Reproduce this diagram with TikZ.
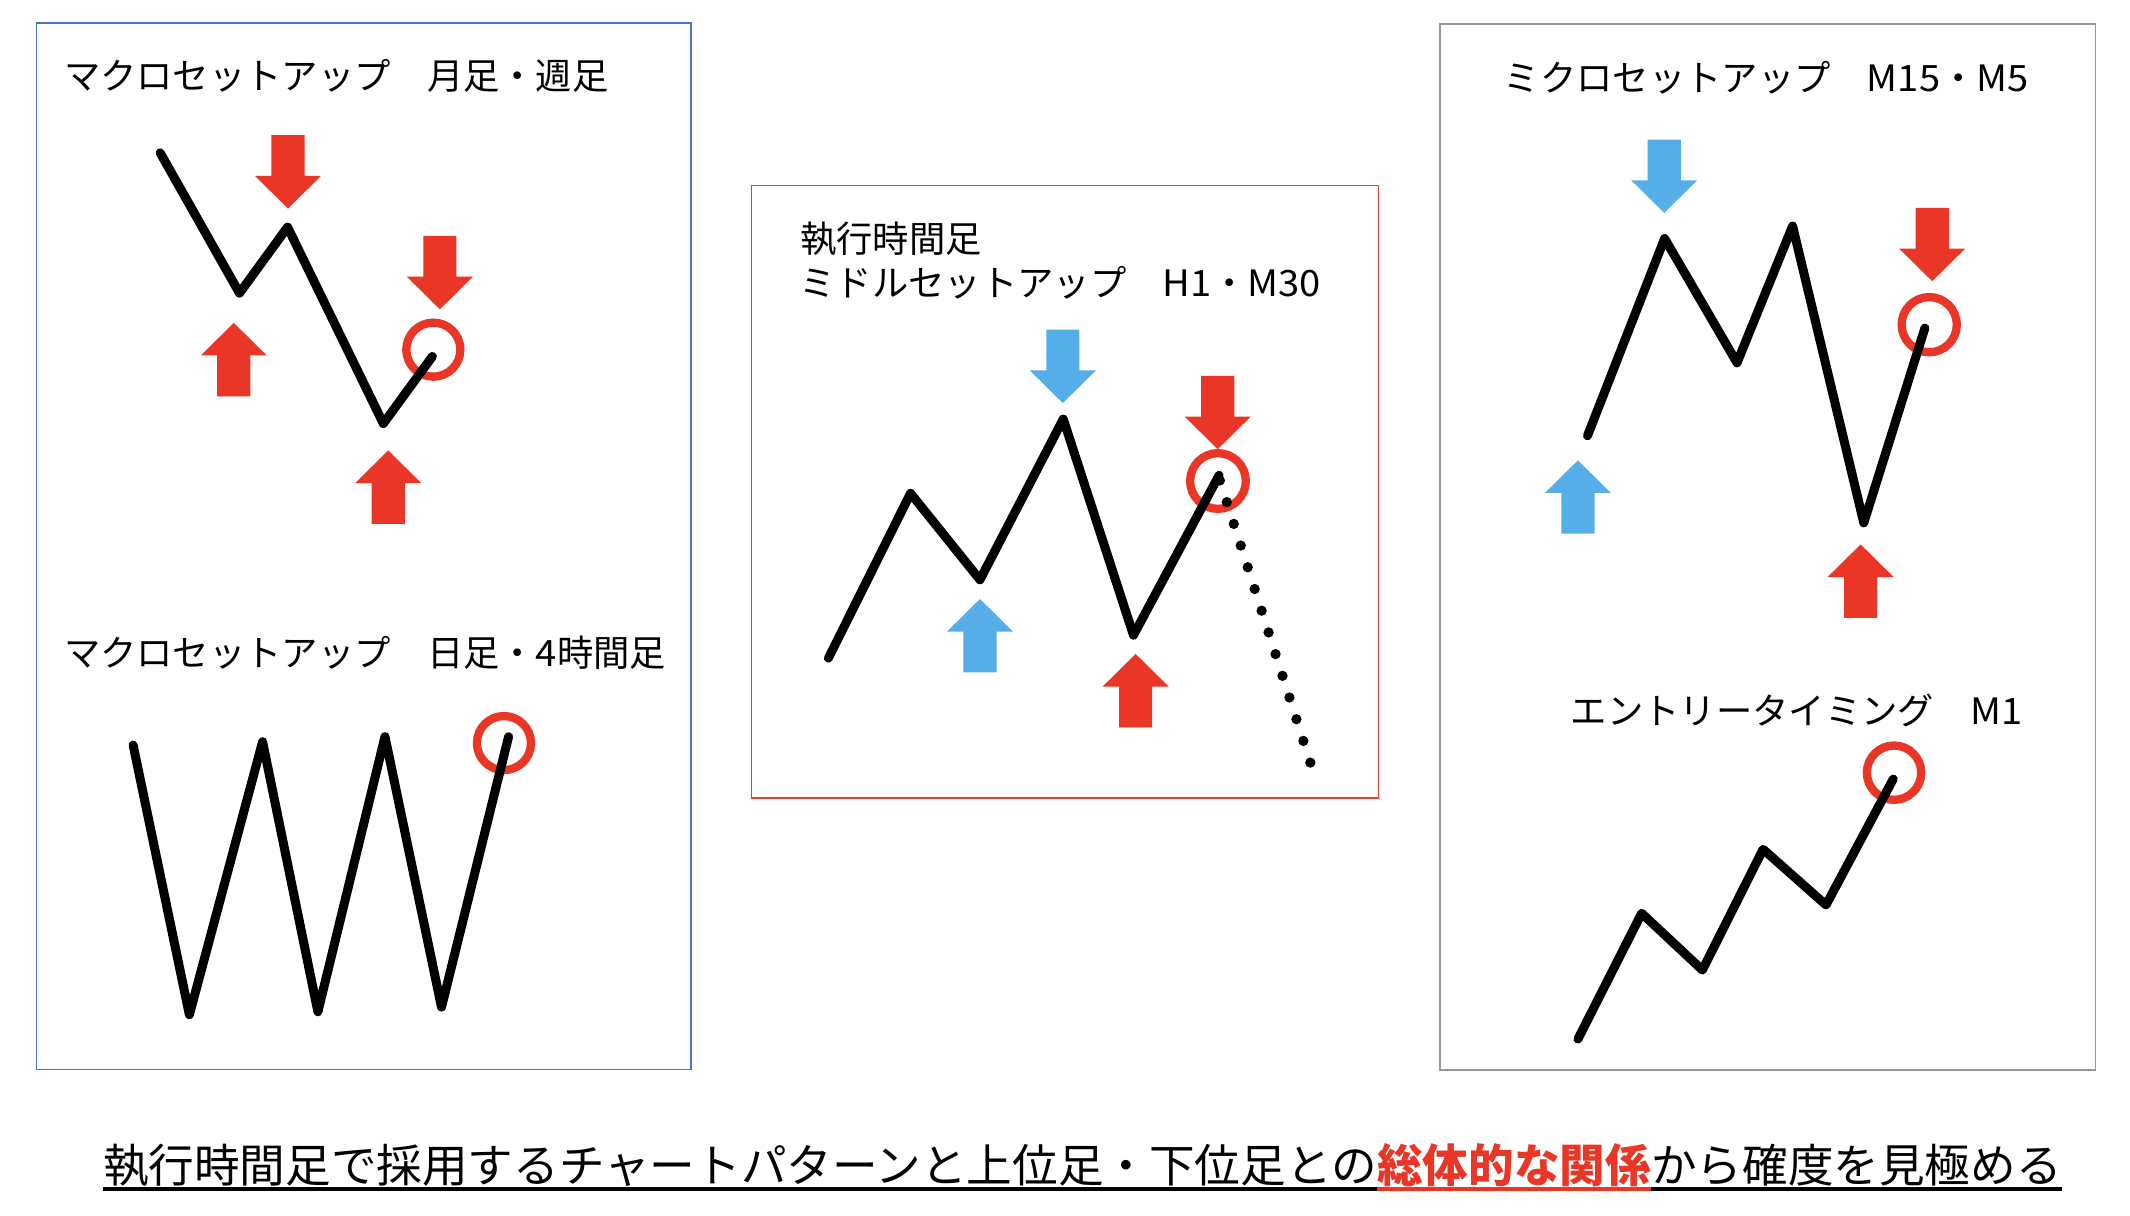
\documentclass[tikz,border=0pt]{standalone}
\usepackage{fontspec}
\setmainfont{Noto Sans CJK JP}
\newcommand\lat[1]{{\addfontfeature{FakeStretch=1.05}#1}}
\definecolor{arred}{RGB}{233,54,38}
\definecolor{arblue}{RGB}{85,174,232}
\definecolor{boxblue}{RGB}{72,116,196}
\definecolor{boxred}{RGB}{232,64,52}
\definecolor{boxgray}{RGB}{150,150,150}
\begin{document}
\begin{tikzpicture}[x=1.3584pt,y=-1.3584pt,
  zig/.style={line width=9pt, line cap=round, line join=round, draw=black},
  ring/.style={draw=arred, line width=8.3pt},
  frame/.style={line width=1.2pt},
  title/.style={anchor=west, inner sep=0pt, font=\fontsize{36.3pt}{43pt}\selectfont},
  bigtitle/.style={inner sep=0pt, font=\fontsize{45.6pt}{50pt}\selectfont},
  pics/darrow/.style={code={\fill[#1] (-12.2,-54)--(12.2,-54)--(12.2,-24)--(24.3,-24)--(0,0)--(-24.3,-24)--(-12.2,-24)--cycle;}},
  pics/uarrow/.style={code={\fill[#1] (-12.2,54)--(12.2,54)--(12.2,24)--(24.3,24)--(0,0)--(-24.3,24)--(-12.2,24)--cycle;}},
]
\useasboundingbox[fill=white] (0,0) rectangle (1568,895);

% frames
\draw[frame, draw=boxblue] (27,17) rectangle (508.7,787.2);
\draw[frame, draw=boxred] (553.2,136.3) rectangle (1014.8,587.4);
\draw[frame, draw=boxgray] (1060,17.7) rectangle (1542.8,787.7);

% titles
\node[title] (t1) at (47,56) {マクロセットアップ　月足・週足};
\node[title] (t2) at (47,480.2) {マクロセットアップ　日足・\lat{4}時間足};
\node[title] (t3) at (589,176.3) {執行時間足};
\node[title] (t4) at (588.5,207.9) {ミドルセットアップ　\lat{H1}・\lat{M30}};
\node[title] (t5) at (1107,57.4) {ミクロセットアップ　\lat{M15}・\lat{M5}};
\node[title] (t6) at (1156.3,522.7) {エントリータイミング　\lat{M1}};

% ---- left upper panel
\draw[ring] (319,257.4) circle[radius=19.9];
\draw[zig] (117.9,112.5) -- (176.3,215.8) -- (211.7,167.2) -- (282.2,311.8) -- (318.3,262.4);
\pic at (212,153.5) {darrow=arred};
\pic at (323.8,227.7) {darrow=arred};
\pic at (172.1,237.7) {uarrow=arred};
\pic at (285.8,331.6) {uarrow=arred};

% ---- left lower panel
\draw[ring] (371,547) circle[radius=19.9];
\draw[zig] (98,548.5) -- (139.4,747) -- (193.3,546) -- (234,744.8) -- (283.4,542.3) -- (325,741.4) -- (374.4,542.3);

% ---- middle panel
\draw[ring] (896.6,354.1) circle[radius=20.5];
\draw[zig] (609.8,484.5) -- (670.3,363.2) -- (721.4,426.8) -- (782.7,308.5) -- (834.4,467.6) -- (897.4,349.9);
\foreach \i in {0,...,13}
  \fill ({898+\i*(964.6-898)/13},{353.7+\i*(561.4-353.7)/13}) circle[radius=3.8];
\pic at (782.4,296.7) {darrow=arblue};
\pic at (721.4,441) {uarrow=arblue};
\pic at (896.4,330.7) {darrow=arred};
\pic at (836,481.4) {uarrow=arred};

% ---- right upper panel
\draw[ring] (1420.2,239) circle[radius=20.3];
\draw[zig] (1168.6,320.8) -- (1225.4,175.6) -- (1278.7,267.1) -- (1319.6,166.4) -- (1372,384.9) -- (1417,241.5);
\pic at (1225.1,156.7) {darrow=arblue};
\pic at (1161.6,338.9) {uarrow=arblue};
\pic at (1422.4,207) {darrow=arred};
\pic at (1369.7,400.8) {uarrow=arred};

% ---- right lower panel
\draw[ring] (1394.3,568.8) circle[radius=20];
\draw[zig] (1161.6,764.9) -- (1208.5,672.3) -- (1253.2,714.1) -- (1297.9,625.2) -- (1344.2,666.2) -- (1393.7,573.5);

% ---- bottom statement
\node[bigtitle, anchor=west] (b1) at (75.8,858.2) {執行時間足で採用するチャートパターンと上位足・下位足との};
\node[bigtitle, anchor=base west, text=arred, font=\fontsize{45.6pt}{50pt}\selectfont\bfseries] (b2) at (b1.base east) {総体的な関係};
\node[bigtitle, anchor=base west] (b3) at (b2.base east) {から確度を見極める};
\coordinate (ul) at (0,875.3);
\draw[line width=3.5pt] (b1.west |- ul) -- (b1.east |- ul);
\draw[line width=3.5pt, draw=arred] (b2.west |- ul) -- (b2.east |- ul);
\draw[line width=3.5pt] (b3.west |- ul) -- (b3.east |- ul);
\end{tikzpicture}
\end{document}
